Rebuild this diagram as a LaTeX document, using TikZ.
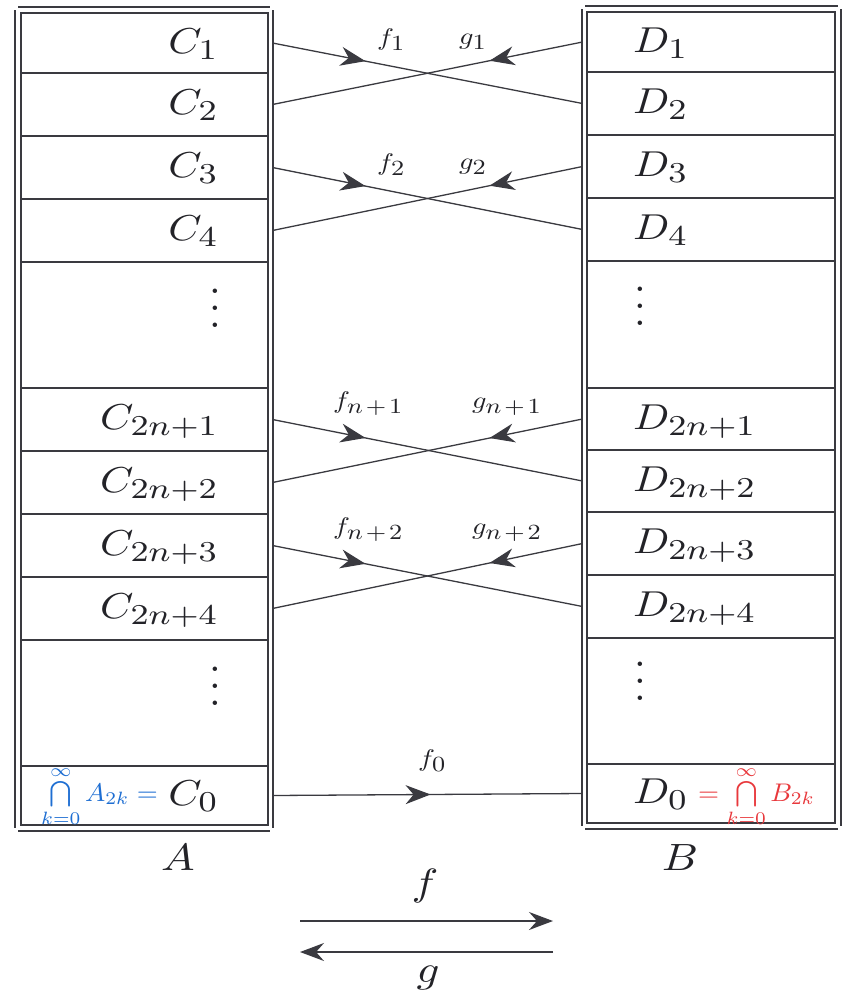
\documentclass[tikz,border=0pt]{standalone}
\usepackage{graphicx}
\usetikzlibrary{arrows.meta,decorations.markings}
\definecolor{lc}{RGB}{58,58,64}
\definecolor{tc}{RGB}{35,35,40}
\definecolor{hblue}{RGB}{30,110,210}
\definecolor{hred}{RGB}{232,56,60}
% big labels: main at 10pt, subscript at 8pt, then scaled
\newcommand\lblbig[2]{\scalebox{4.248}[3.6]{$#1_{\mbox{\footnotesize$#2$}}$}}
% small labels: main at 10pt, subscript at 9pt, then scaled
\newcommand\lblsmall[2]{\scalebox{2.83}[2.4]{$#1_{\mbox{\small$#2$}}$}}
\newcommand\pl{\mskip2mu{+}\mskip2mu}
\newcommand\biglet[1]{\scalebox{4.484}[3.8]{$#1$}}
\newcommand\myvdots{\scalebox{4.2}{\vbox{\baselineskip4pt\lineskiplimit0pt\hbox{.}\hbox{.}\hbox{.}}}}
\begin{document}
\begin{tikzpicture}[x=1pt,y=-1pt,
  cellC/.style={draw=lc, line width=1.6pt, minimum width=247pt, inner sep=0pt,
    outer xsep=4.5pt, outer ysep=0pt},
  cellD/.style={cellC, minimum width=248pt},
  txtC/.style={anchor=base east, inner sep=0pt, text=tc},
  txtD/.style={anchor=base west, inner sep=0pt, text=tc},
  frame/.style={draw=lc, line width=1.4pt},
  conn/.style={draw=lc, line width=1.3pt},
  midarr/.style={postaction={decorate,decoration={markings,
    mark=at position #1 with {\arrow{Stealth[length=25pt,width=19pt,inset=8pt]}}}}},
  endarr/.style={-{Stealth[length=24pt,width=18pt,inset=8pt]}},
  lab/.style={anchor=base west, inner sep=0pt, text=tc},
  dotn/.style={anchor=base, inner sep=0pt, text=tc},
  ann/.style={inner sep=0pt}
]
\useasboundingbox (0,0) rectangle (843,997);
% outer frames
\draw[frame] (18,7) -- (270,7);
\draw[frame] (18,831) -- (270,831);
\draw[frame] (15,10) -- (15,828);
\draw[frame] (273,10) -- (273,828);
\draw[frame] (585,6) -- (838,6);
\draw[frame] (585,829) -- (838,829);
\draw[frame] (582,9) -- (582,826);
\draw[frame] (841,9) -- (841,826);
% left cells
\node[cellC, minimum height=60pt] (C1) at (144.5,43) {};
\node[cellC, minimum height=63pt] (C2) at (144.5,104.5) {};
\node[cellC, minimum height=63pt] (C3) at (144.5,167.5) {};
\node[cellC, minimum height=63pt] (C4) at (144.5,230.5) {};
\node[cellC, minimum height=126pt] (Cd1) at (144.5,325) {};
\node[cellC, minimum height=63pt] (C5) at (144.5,419.5) {};
\node[cellC, minimum height=63pt] (C6) at (144.5,482.5) {};
\node[cellC, minimum height=63pt] (C7) at (144.5,545.5) {};
\node[cellC, minimum height=63pt] (C8) at (144.5,608.5) {};
\node[cellC, minimum height=126pt] (Cd2) at (144.5,703) {};
\node[cellC, minimum height=59pt] (C0) at (144.5,795.5) {};
% left labels
\node[txtC] (tC1) at (219,53) {\lblbig{C}{1}};
\node[txtC] (tC2) at (219,114.5) {\lblbig{C}{2}};
\node[txtC] (tC3) at (219,177.5) {\lblbig{C}{3}};
\node[txtC] (tC4) at (219,240.5) {\lblbig{C}{4}};
\node[txtC] (tC5) at (219,429.5) {\lblbig{C}{2n{+}1}};
\node[txtC] (tC6) at (219,492.5) {\lblbig{C}{2n{+}2}};
\node[txtC] (tC7) at (219,555.5) {\lblbig{C}{2n{+}3}};
\node[txtC] (tC8) at (219,618.5) {\lblbig{C}{2n{+}4}};
\node[txtC] (tC0) at (219,805.5) {\lblbig{C}{0}};
% right cells
\node[cellD, minimum height=60pt] (D1) at (711,42) {};
\node[cellD, minimum height=63pt] (D2) at (711,103.5) {};
\node[cellD, minimum height=63pt] (D3) at (711,166.5) {};
\node[cellD, minimum height=63pt] (D4) at (711,229.5) {};
\node[cellD, minimum height=127pt] (Dd1) at (711,324.5) {};
\node[cellD, minimum height=62pt] (D5) at (711,419) {};
\node[cellD, minimum height=62pt] (D6) at (711,481) {};
\node[cellD, minimum height=63pt] (D7) at (711,543.5) {};
\node[cellD, minimum height=63pt] (D8) at (711,606.5) {};
\node[cellD, minimum height=126pt] (Dd2) at (711,701) {};
\node[cellD, minimum height=59pt] (D0) at (711,793.5) {};
% right labels
\node[txtD] (tD1) at (633,52) {\lblbig{D}{1}};
\node[txtD] (tD2) at (633,113.5) {\lblbig{D}{2}};
\node[txtD] (tD3) at (633,176.5) {\lblbig{D}{3}};
\node[txtD] (tD4) at (633,239.5) {\lblbig{D}{4}};
\node[txtD] (tD5) at (633,429) {\lblbig{D}{2n{+}1}};
\node[txtD] (tD6) at (633,491) {\lblbig{D}{2n{+}2}};
\node[txtD] (tD7) at (633,553.5) {\lblbig{D}{2n{+}3}};
\node[txtD] (tD8) at (633,616.5) {\lblbig{D}{2n{+}4}};
\node[txtD] (tD0) at (633,803.5) {\lblbig{D}{0}};
% vertical dots
\node[dotn] (vl1) at (215,327) {\myvdots};
\node[dotn] (vr1) at (640,325) {\myvdots};
\node[dotn] (vl2) at (215,705) {\myvdots};
\node[dotn] (vr2) at (640,700) {\myvdots};
% connectors
\draw[conn, midarr=0.3] (C1.east) -- (D2.west);
\draw[conn, midarr=0.3] (D1.west) -- (C2.east);
\draw[conn, midarr=0.3] (C3.east) -- (D4.west);
\draw[conn, midarr=0.3] (D3.west) -- (C4.east);
\draw[conn, midarr=0.3] (C5.east) -- (D6.west);
\draw[conn, midarr=0.3] (D5.west) -- (C6.east);
\draw[conn, midarr=0.3] (C7.east) -- (D8.west);
\draw[conn, midarr=0.3] (D7.west) -- (C8.east);
\draw[conn, midarr=0.51] (C0.east) -- (D0.west);
% connector labels
\node[lab] (lf1) at (377,45) {\lblsmall{f}{1}};
\node[lab] (lg1) at (459,44) {\lblsmall{g}{1}};
\node[lab] (lf2) at (377,170) {\lblsmall{f}{2}};
\node[lab] (lg2) at (459,169) {\lblsmall{g}{2}};
\node[lab] (lf3) at (333,408) {\lblsmall{f}{n\pl 1}};
\node[lab] (lg3) at (472,408) {\lblsmall{g}{n\pl 1}};
\node[lab] (lf4) at (333,534) {\lblsmall{f}{n\pl 2}};
\node[lab] (lg4) at (472,534) {\lblsmall{g}{n\pl 2}};
\node[lab] (lf0) at (418,766) {\lblsmall{f}{0}};
% handwritten annotations
\node[ann, anchor=base east, text=hblue] (annA) at (158,801)
  {\scalebox{2.7}[2.55]{$\bigcap\limits_{k=0}^{\infty} A_{2k} =$}};
\node[ann, anchor=base west, text=hred] (annB) at (698,801)
  {\scalebox{2.7}[2.55]{$= \bigcap\limits_{k=0}^{\infty} B_{2k}$}};
% set names
\node[ann, text=tc] (A) at (178,858) {\biglet{A}};
\node[ann, text=tc] (B) at (680,858) {\biglet{B}};
% bottom arrows
\coordinate (fa) at (300,921);
\coordinate (fb) at (553,921);
\coordinate (ga) at (553,952);
\coordinate (gb) at (300,952);
\draw[conn, endarr] (fa) -- (fb);
\draw[conn, endarr] (ga) -- (gb);
\node[ann, text=tc] (lf) at (425,886) {\biglet{f}};
\node[ann, text=tc] (lg) at (428,978) {\biglet{g}};
\end{tikzpicture}
\end{document}
